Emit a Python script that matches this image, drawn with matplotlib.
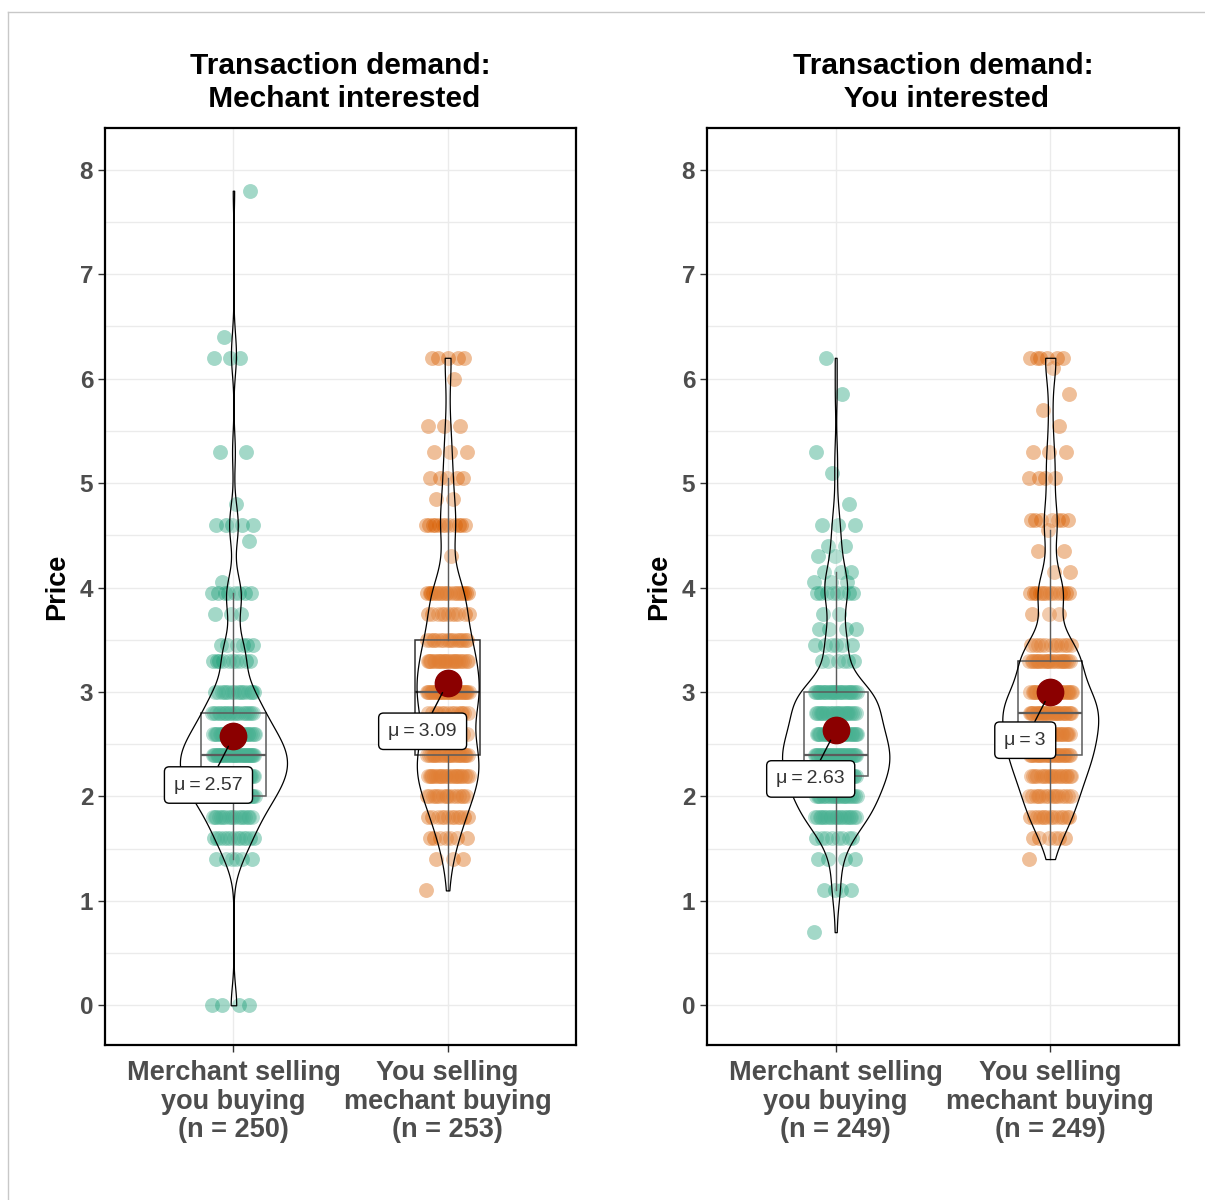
import numpy as np
import matplotlib.pyplot as plt
from matplotlib.lines import Line2D

plt.rcParams['font.family'] = ['Liberation Sans', 'DejaVu Sans']

# ---------------------------------------------------------------------------
# Data: observed prices and how many respondents gave each one
# ---------------------------------------------------------------------------
# Left panel, merchant selling / you buying (green)
left_a_prices = [0, 1.4, 1.6, 1.8, 2.0, 2.2, 2.4, 2.6, 2.8, 3.0, 3.3, 3.45, 3.75,
                 3.95, 4.05, 4.45, 4.6, 4.8, 5.3, 6.2, 6.4, 7.8]
left_a_counts = [4, 6, 13, 18, 28, 36, 38, 29, 20, 16, 10, 6, 3,
                 8, 1, 1, 5, 1, 2, 3, 1, 1]

# Left panel, you selling / merchant buying (orange)
left_b_prices = [1.1, 1.4, 1.6, 1.8, 2.0, 2.2, 2.4, 2.6, 2.8, 3.0, 3.3, 3.5, 3.75,
                 3.95, 4.3, 4.6, 4.85, 5.05, 5.3, 5.55, 6.0, 6.2]
left_b_counts = [1, 3, 7, 12, 16, 24, 25, 12, 14, 34, 25, 17, 11,
                 20, 1, 12, 2, 5, 3, 3, 1, 5]

# Right panel, merchant selling / you buying (green)
right_a_prices = [0.7, 1.1, 1.4, 1.6, 1.8, 2.0, 2.2, 2.4, 2.6, 2.8, 3.0, 3.3, 3.45,
                  3.6, 3.75, 3.95, 4.05, 4.15, 4.3, 4.4, 4.6, 4.8, 5.1, 5.3, 5.85, 6.2]
right_a_counts = [1, 4, 4, 8, 21, 24, 30, 33, 28, 24, 28, 6, 6,
                  4, 2, 8, 3, 3, 2, 2, 3, 1, 1, 1, 1, 1]

# Right panel, you selling / merchant buying (orange)
right_b_prices = [1.4, 1.6, 1.8, 2.0, 2.2, 2.4, 2.6, 2.8, 3.0, 3.3, 3.45, 3.75, 3.95,
                  4.15, 4.35, 4.55, 4.65, 5.05, 5.3, 5.55, 5.7, 5.85, 6.1, 6.2]
right_b_counts = [1, 6, 14, 16, 20, 26, 26, 30, 28, 24, 12, 3, 14,
                  2, 2, 1, 7, 4, 3, 1, 1, 1, 1, 6]

titles = ["Transaction demand:\n Mechant interested",
          "Transaction demand:\n You interested"]
group_names = [["Merchant selling\nyou buying", "You selling\nmechant buying"],
               ["Merchant selling\nyou buying", "You selling\nmechant buying"]]
panels = [
    [(left_a_prices, left_a_counts), (left_b_prices, left_b_counts)],
    [(right_a_prices, right_a_counts), (right_b_prices, right_b_counts)],
]

COLORS = ["#1B9E77", "#D95F02"]
GRID = "#EBEBEB"
TICK_GRAY = "#4D4D4D"


def expand(prices, counts):
    return np.repeat(np.asarray(prices, float), counts)


def kde(vals):
    # gaussian density with R's nrd0 bandwidth, trimmed to data range
    n = len(vals)
    sd = vals.std(ddof=1)
    iqr = np.subtract(*np.percentile(vals, [75, 25]))
    bw = 0.9 * min(sd, iqr / 1.34) * n ** -0.2
    grid = np.linspace(vals.min(), vals.max(), 512)
    z = (grid[:, None] - vals[None, :]) / bw
    dens = np.exp(-0.5 * z ** 2).sum(axis=1) / (n * bw * np.sqrt(2 * np.pi))
    return grid, dens


def fmt_mean(m):
    return f"{m:.2f}".rstrip("0").rstrip(".")


fig = plt.figure(figsize=(12.05, 12.0), dpi=100)
axes = [fig.add_axes([0.0871, 0.1292, 0.3910, 0.7641]),
        fig.add_axes([0.5867, 0.1292, 0.3917, 0.7641])]

for ax, groups, title, names in zip(axes, panels, titles, group_names):
    data = [expand(p, c) for p, c in groups]
    positions = [1, 2]

    # jittered points (deterministic spread within +-0.1)
    for pos, vals, col in zip(positions, data, COLORS):
        idx = np.arange(len(vals))
        offs = ((idx * 0.6180339887) % 1.0 - 0.5) * 0.2
        ax.scatter(pos + offs, vals, s=115, color=col, alpha=0.4,
                   linewidths=0, zorder=2)

    # boxplots
    ax.boxplot(data, positions=positions, widths=0.3, showfliers=False,
               patch_artist=True, manage_ticks=False,
               boxprops=dict(facecolor=(1, 1, 1, 0), edgecolor="#333333", linewidth=1.1),
               medianprops=dict(color="#333333", linewidth=1.6),
               whiskerprops=dict(color="#333333", linewidth=1),
               capprops=dict(linewidth=0), zorder=3)

    # violins, area-scaled within the panel
    dens_list = [kde(v) for v in data]
    dmax = max(d.max() for _, d in dens_list)
    for pos, (grid, dens) in zip(positions, dens_list):
        half = dens / dmax * 0.25
        ax.fill_betweenx(grid, pos - half, pos + half, facecolor=(1, 1, 1, 0.2),
                         edgecolor="black", linewidth=0.9, zorder=4)

    # means with labels
    for pos, vals in zip(positions, data):
        m = vals.mean()
        ax.scatter([pos], [m], s=360, color="#8B0000", zorder=5)
        ax.annotate(f"\u03bc\u2009=\u2009{fmt_mean(m)}", xy=(pos, m), xytext=(-18, -35),
                    textcoords="offset points", ha="center", va="center",
                    fontsize=14, color="#333333",
                    bbox=dict(boxstyle="round,pad=0.5,rounding_size=0.25",
                              fc="white", ec="black", lw=1),
                    arrowprops=dict(arrowstyle="-", color="black", lw=1,
                                    shrinkA=0, shrinkB=8),
                    zorder=6)

    ax.set_xticks(positions)
    ax.set_xticklabels([f"{nm}\n(n = {len(v)})" for nm, v in zip(names, data)],
                       linespacing=1.12)
    ax.set_yticks(range(9))
    ax.set_yticks(np.arange(-0.5, 8.5, 0.5), minor=True)
    ax.set_xlim(0.4, 2.6)
    ax.set_ylim(-0.38, 8.4)
    ax.grid(True, which="both", axis="y", color=GRID, linewidth=1)
    ax.grid(True, which="major", axis="x", color=GRID, linewidth=1)
    ax.set_axisbelow(True)
    ax.tick_params(which="minor", length=0)
    ax.tick_params(which="major", length=5, width=1, color="#333333",
                   labelcolor=TICK_GRAY, labelsize=17.5)
    ax.tick_params(axis="x", labelsize=19.5, pad=6)
    for lab in ax.get_xticklabels() + ax.get_yticklabels():
        lab.set_fontweight("bold")
    for sp in ax.spines.values():
        sp.set_linewidth(1.6)
        sp.set_color("black")
    ax.set_title(title, fontsize=21.5, fontweight="bold", pad=15, linespacing=1.22)
    ax.set_ylabel("Price", fontsize=19.5, fontweight="bold", labelpad=7)

# light screenshot border
fig.add_artist(Line2D([0.0066, 1.0], [0.99, 0.99], transform=fig.transFigure,
                      color="#C8C8C8", linewidth=1))
fig.add_artist(Line2D([0.0066, 0.0066], [0.0, 0.99], transform=fig.transFigure,
                      color="#C8C8C8", linewidth=1))

fig.savefig("out.png", dpi=100)
